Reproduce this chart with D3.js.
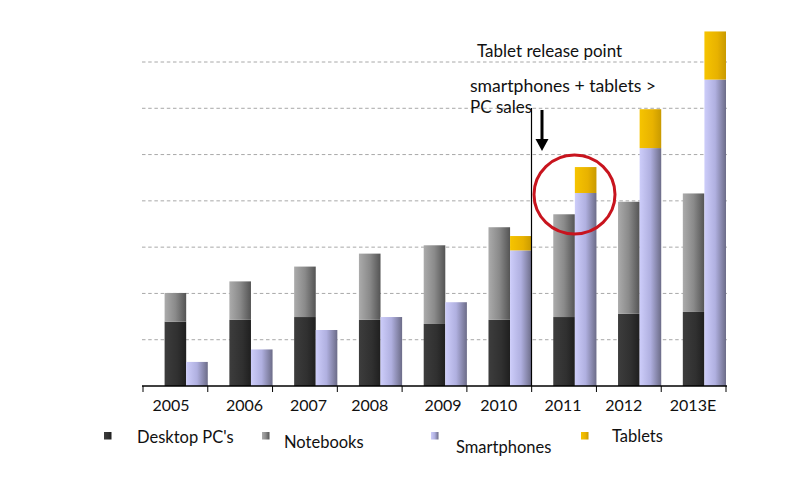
<!DOCTYPE html>
<html><head><meta charset="utf-8">
<script src="https://cdn.jsdelivr.net/npm/d3@7/dist/d3.min.js"></script>
<style>html,body{margin:0;padding:0;background:#fff;}svg{display:block;}</style>
</head><body>
<script>
// ---- data ----
const years = ["2005","2006","2007","2008","2009","2010","2011","2012","2013E"];
const desktop = [13.9,14.3,14.9,14.3,13.4,14.3,14.9,15.6,16.0];
const notebooks = [6.2,8.3,10.9,14.3,17.0,20.0,22.2,24.2,25.6];
const smartphones = [5.2,7.9,12.1,14.9,18.1,29.3,41.7,51.4,66.2];
const tablets = [0,0,0,0,0,3.1,5.6,8.4,10.4];
const gridTicks = [10,20,30,40,50,60,70];
const legendLabels = ["Desktop PC's","Notebooks","Smartphones","Tablets"];
const annotations = ["Tablet release point","smartphones + tablets >","PC sales"];

// ---- layout ----
const W = 787, H = 477;
const FONT = "Lato, 'Open Sans', sans-serif";
const yearLabelX = [171,244.5,308.5,369.7,443,498.8,563,623.8,693];

const svg = d3.select("body").append("svg").attr("width", W).attr("height", H);
const defs = svg.append("defs");
function grad(id, stops){
  const g = defs.append("linearGradient").attr("id", id).attr("x1","0").attr("x2","1").attr("y1","0").attr("y2","0");
  stops.forEach(([o,c]) => g.append("stop").attr("offset", o).attr("stop-color", c));
}
grad("gDesk", [[0,"#3d3d3d"],[0.6,"#303030"],[1,"#1f1f1f"]]);
grad("gNote", [[0,"#ababab"],[0.5,"#8a8a8a"],[1,"#545454"]]);
grad("gSmart", [[0,"#cdcdfa"],[0.5,"#b0b0e0"],[1,"#6c6c88"]]);
grad("gTab", [[0,"#f6c400"],[0.6,"#e8b200"],[1,"#c99a00"]]);

const x = d3.scaleBand().domain(years).range([143, 726]).padding(0);
const y = d3.scaleLinear().domain([0, 70]).range([386, 62]);
const bw = x.bandwidth() / 3;

// gridlines
svg.append("g").selectAll("line").data(gridTicks).join("line")
  .attr("x1", 142).attr("x2", 727)
  .attr("y1", d => y(d)).attr("y2", d => y(d))
  .attr("stroke", "#a8a8a8").attr("stroke-width", 1).attr("stroke-dasharray", "3.5,2.7");

const rows = years.map((yr, i) => ({yr, desk: desktop[i], note: notebooks[i], smart: smartphones[i], tab: tablets[i]}));
const g = svg.append("g");
// PC stack
g.selectAll(".desk").data(rows).join("rect")
  .attr("x", d => x(d.yr) + bw).attr("width", bw)
  .attr("y", d => y(d.desk)).attr("height", d => y(0) - y(d.desk))
  .attr("fill", "url(#gDesk)");
g.selectAll(".note").data(rows).join("rect")
  .attr("x", d => x(d.yr) + bw).attr("width", bw)
  .attr("y", d => y(d.desk + d.note)).attr("height", d => y(d.desk) - y(d.desk + d.note))
  .attr("fill", "url(#gNote)");
// mobile stack
g.selectAll(".smart").data(rows).join("rect")
  .attr("x", d => x(d.yr) + 2*bw).attr("width", bw)
  .attr("y", d => y(d.smart)).attr("height", d => y(0) - y(d.smart))
  .attr("fill", "url(#gSmart)");
g.selectAll(".tab").data(rows.filter(d => d.tab > 0)).join("rect")
  .attr("x", d => x(d.yr) + 2*bw).attr("width", bw)
  .attr("y", d => y(d.smart + d.tab)).attr("height", d => y(d.smart) - y(d.smart + d.tab))
  .attr("fill", "url(#gTab)");

// x axis
const ax = svg.append("g");
ax.append("line").attr("x1", 142).attr("x2", 727).attr("y1", y(0)).attr("y2", y(0))
  .attr("stroke", "#000").attr("stroke-width", 1.5);
const edges = years.map(d => x(d)).concat([x(years[years.length-1]) + x.bandwidth()]);
ax.selectAll(".tick").data(edges).join("line")
  .attr("x1", d => d).attr("x2", d => d).attr("y1", y(0)).attr("y2", y(0) + 6)
  .attr("stroke", "#000").attr("stroke-width", 1);
ax.selectAll(".lbl").data(years).join("text")
  .attr("x", (d, i) => yearLabelX[i]).attr("y", 411)
  .attr("text-anchor", "middle").attr("font-family", FONT).attr("font-size", 16)
  .attr("fill", "#111").text(d => d);

// annotations
svg.append("line").attr("x1", 531.5).attr("x2", 531.5).attr("y1", 108).attr("y2", y(0))
  .attr("stroke", "#000").attr("stroke-width", 1.2);
svg.append("line").attr("x1", 542).attr("x2", 542).attr("y1", 110).attr("y2", 140)
  .attr("stroke", "#000").attr("stroke-width", 3);
svg.append("path").attr("d", "M535.5,139 L548.5,139 L542,151 Z").attr("fill", "#000");
svg.append("text").attr("x", 477).attr("y", 57).attr("font-family", FONT).attr("font-size", 17)
  .attr("fill", "#111").text(annotations[0]);
svg.append("text").attr("x", 470).attr("y", 92).attr("font-family", FONT).attr("font-size", 17.6)
  .attr("fill", "#111").text(annotations[1]);
svg.append("text").attr("x", 470).attr("y", 113).attr("font-family", FONT).attr("font-size", 17)
  .attr("fill", "#111").text(annotations[2]);
svg.append("ellipse").attr("cx", 574.5).attr("cy", 194.5).attr("rx", 40.5).attr("ry", 39.5)
  .attr("fill", "none").attr("stroke", "#c8141e").attr("stroke-width", 3);

// legend
const legendItems = [
  {sx: 104, sy: 432, tx: 137, ty: 443, fill: "url(#gDesk)"},
  {sx: 262, sy: 432, tx: 284, ty: 448, fill: "url(#gNote)"},
  {sx: 431, sy: 432, tx: 456, ty: 453, fill: "url(#gSmart)"},
  {sx: 581, sy: 432, tx: 612, ty: 442, fill: "url(#gTab)"}
];
const lg = svg.append("g");
legendItems.forEach((it, i) => {
  lg.append("rect").attr("x", it.sx).attr("y", it.sy).attr("width", 7.5).attr("height", 7.5).attr("fill", it.fill);
  lg.append("text").attr("x", it.tx).attr("y", it.ty).attr("font-family", FONT).attr("font-size", 16.5)
    .attr("fill", "#111").text(legendLabels[i]);
});
</script>
</body></html>
